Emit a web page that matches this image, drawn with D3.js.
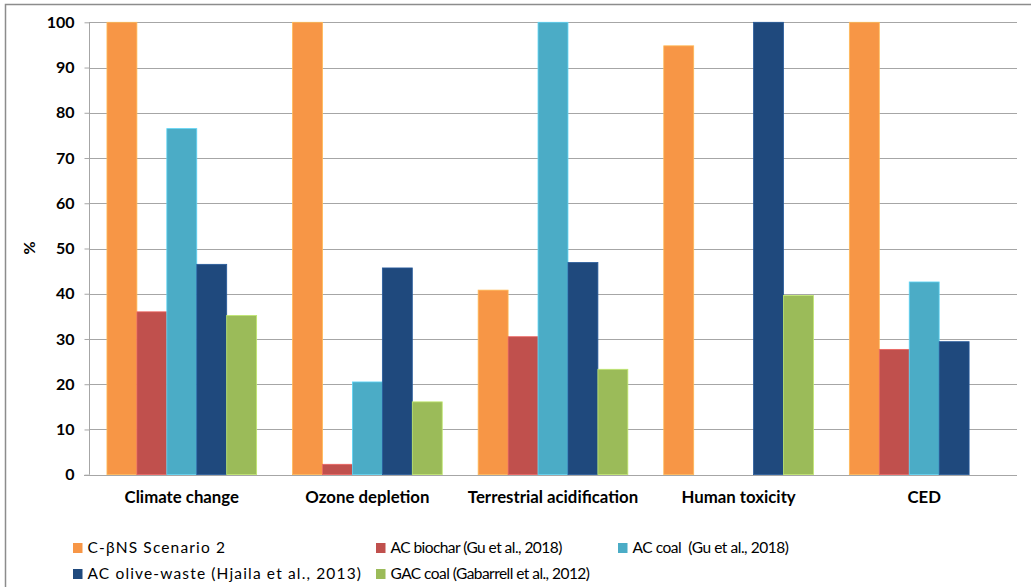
<!DOCTYPE html>
<html>
<head>
<meta charset="utf-8">
<script src="https://cdn.jsdelivr.net/npm/d3@7"></script>
<style>
  html, body { margin: 0; padding: 0; background: #fff; }
  svg { display: block; font-family: "Lato", "Open Sans", sans-serif; }
</style>
</head>
<body>
<svg id="chart" width="1031" height="587"></svg>
<script>
// Impact categories along the x axis
const categories = ["Climate change", "Ozone depletion", "Terrestrial acidification", "Human toxicity", "CED"];

// Series names (legend order)
const seriesNames = [
  "C-\u03B2NS Scenario 2",
  "AC biochar (Gu et al., 2018)",
  "AC coal  (Gu et al., 2018)",
  "AC olive-waste (Hjaila et al., 2013)",
  "GAC coal (Gabarrell et al., 2012)"
];

// Relative impact (%) per series, one value per category
const scenario2   = [100, 100, 40.8, 94.8, 100];
const acBiochar   = [36.0, 2.3, 30.5, 0, 27.7];
const acCoal      = [76.5, 20.5, 100, 0, 42.6];
const acOlive     = [46.5, 45.7, 46.9, 100, 29.4];
const gacCoal     = [35.2, 16.1, 23.3, 39.6, 0];

const yTicks = [0, 10, 20, 30, 40, 50, 60, 70, 80, 90, 100];

const seriesValues = [scenario2, acBiochar, acCoal, acOlive, gacCoal];
const colors = ["#F79646", "#C0504D", "#4BACC6", "#1F497D", "#9BBB59"];

const svg = d3.select("#chart");

// Outer chart frame
svg.append("rect")
  .attr("x", 5.5).attr("y", 4.5)
  .attr("width", 1040).attr("height", 600)
  .attr("fill", "none")
  .attr("stroke", "#8c8c8c")
  .attr("stroke-width", 1.5);

const plot = { left: 89, right: 1017, top: 22.3, bottom: 474.7 };

const y = d3.scaleLinear().domain([0, 100]).range([plot.bottom, plot.top]);
const x0 = d3.scaleBand().domain(categories).range([plot.left, plot.right]).padding(0);
const x1 = d3.scaleBand().domain(d3.range(seriesNames.length))
  .range([0, x0.bandwidth()]).paddingOuter(0.6).paddingInner(0);

// Horizontal gridlines
svg.append("g")
  .selectAll("line")
  .data(yTicks.filter(d => d > 0))
  .join("line")
  .attr("x1", plot.left).attr("x2", plot.right)
  .attr("y1", d => Math.round(y(d)) + 0.5).attr("y2", d => Math.round(y(d)) + 0.5)
  .attr("stroke", "#a6a6a6").attr("stroke-width", 1);

// Bars
const rows = categories.map((c, i) => ({ cat: c, vals: seriesValues.map(s => s[i]) }));
const groups = svg.append("g").selectAll("g")
  .data(rows)
  .join("g")
  .attr("transform", d => `translate(${x0(d.cat)},0)`);

groups.selectAll("rect")
  .data(d => d.vals.map((v, k) => ({ v, k })))
  .join("rect")
  .attr("x", d => x1(d.k))
  .attr("width", x1.bandwidth())
  .attr("y", d => y(d.v))
  .attr("height", d => y(0) - y(d.v))
  .attr("fill", d => colors[d.k])
  .attr("stroke", d => d.v > 0 ? d3.color(colors[d.k]).brighter(0.6) : "none")
  .attr("stroke-width", 0.8);

// Y axis
const yAxis = svg.append("g")
  .attr("transform", `translate(${plot.left + 0.5},0)`)
  .call(d3.axisLeft(y).tickValues(yTicks).tickSize(5).tickPadding(10).tickFormat(d3.format("d")));
yAxis.select(".domain").attr("stroke", "#a6a6a6").attr("d", `M0,${plot.top}V${plot.bottom}`);
yAxis.selectAll(".tick line").attr("stroke", "#a6a6a6");
yAxis.selectAll(".tick text")
  .attr("fill", "#000")
  .style("font-size", "16px")
  .style("font-weight", "bold")
  .style("font-family", "Lato, sans-serif");

// X axis
const xAxis = svg.append("g")
  .attr("transform", `translate(0,${Math.round(plot.bottom) + 0.5})`)
  .call(d3.axisBottom(x0).tickSize(0).tickPadding(16));
xAxis.select(".domain").attr("stroke", "#a6a6a6").attr("d", `M${plot.left - 5},0H${plot.right}`);
xAxis.selectAll(".tick text")
  .attr("fill", "#000")
  .style("font-size", "16.8px")
  .style("font-weight", "bold")
  .style("font-family", "Lato, sans-serif");

// Y axis title
svg.append("text")
  .attr("transform", "translate(35,248) rotate(-90)")
  .attr("text-anchor", "middle")
  .style("font-size", "16px")
  .style("font-weight", "bold")
  .text("%");

// Legend (first column is letter-spaced, the others set tight)
const legendPos = [
  { x: 73, y: 548, ls: 1.15 }, { x: 376, y: 548, ls: -0.55 }, { x: 618, y: 548, ls: -0.45 },
  { x: 73, y: 574, ls: 1.15 }, { x: 376, y: 574, ls: -0.55 }
];
const legend = svg.append("g").selectAll("g")
  .data(seriesNames)
  .join("g")
  .attr("transform", (d, i) => `translate(${legendPos[i].x},${legendPos[i].y})`);
legend.append("rect")
  .attr("x", 0).attr("y", -5)
  .attr("width", 9.5).attr("height", 10)
  .attr("fill", (d, i) => colors[i]);
legend.append("text")
  .attr("x", 14.5).attr("y", 0)
  .attr("dy", "0.35em")
  .style("font-size", "15.5px")
  .style("white-space", "pre")
  .style("letter-spacing", (d, i) => legendPos[i].ls + "px")
  .attr("fill", "#000")
  .text(d => d);
</script>
</body>
</html>
